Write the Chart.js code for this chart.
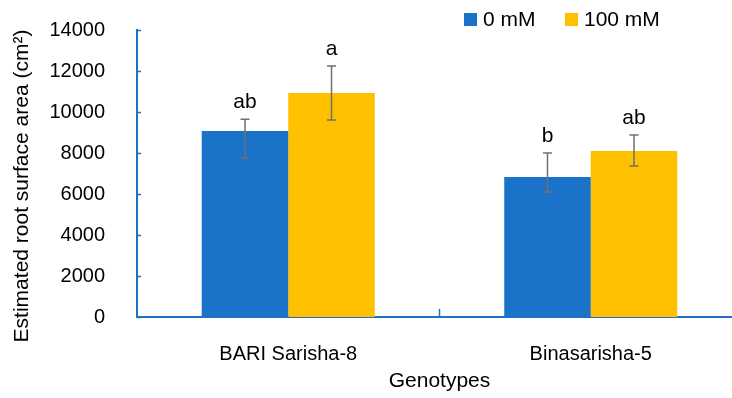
<!DOCTYPE html>
<html>
<head>
<meta charset="utf-8">
<script src="https://cdn.jsdelivr.net/npm/chart.js@4"></script>
<style>
  html, body { margin: 0; padding: 0; background: #fff; overflow: hidden; }
  #wrap { width: 742px; height: 398px; }
</style>
</head>
<body>
<div id="wrap"><canvas id="myChart" width="742" height="398"></canvas></div>
<script>
const genotypes = ['BARI Sarisha-8', 'Binasarisha-5']
const seriesNames = ['0 mM', '100 mM']
// values per series, one entry per genotype
const zero = [9070, 6830]
const hundred = [10930, 8100]
// asymmetric error bars: upper and lower ends
const zeroUp = [9650, 8000]
const zeroLow = [7760, 6100]
const hundUp = [12240, 8880]
const hundLow = [9610, 7370]
const zeroLetters = ['ab', 'b']
const hundLetters = ['a', 'ab']
const yTicks = [0, 2000, 4000, 6000, 8000, 10000, 12000, 14000]
const yTitle = 'Estimated root surface area (cm²)'

const blue = '#1a73c8'
const yellow = '#ffc000'
const axisBlue = '#1f70c1'
const font = "'Liberation Sans', Arial, sans-serif"

const extras = {
    id: 'extras',
    afterDatasetsDraw(chart) {
        const ctx = chart.ctx
        const y = chart.scales.y
        const x = chart.scales.x
        const area = chart.chartArea
        const errs = [[zeroUp, zeroLow, zeroLetters], [hundUp, hundLow, hundLetters]]
        ctx.save()
        errs.forEach(([up, low, letters], di) => {
            chart.getDatasetMeta(di).data.forEach((bar, j) => {
                const yt = y.getPixelForValue(up[j])
                const yb = y.getPixelForValue(low[j])
                ctx.strokeStyle = '#707070'
                ctx.lineWidth = 1.5
                ctx.beginPath()
                ctx.moveTo(bar.x, yt); ctx.lineTo(bar.x, yb)
                ctx.moveTo(bar.x - 4.5, yt); ctx.lineTo(bar.x + 4.5, yt)
                ctx.moveTo(bar.x - 4.5, yb); ctx.lineTo(bar.x + 4.5, yb)
                ctx.stroke()
                ctx.fillStyle = '#000'
                ctx.font = '21px ' + font
                ctx.textAlign = 'center'
                ctx.textBaseline = 'bottom'
                ctx.fillText(letters[j], bar.x, yt - 6)
            })
        })
        // inner tick marks
        ctx.strokeStyle = axisBlue
        ctx.lineWidth = 1.5
        ctx.beginPath()
        yTicks.forEach(v => {
            const py = Math.round(y.getPixelForValue(v)) + 0.5
            ctx.moveTo(area.left, py); ctx.lineTo(area.left + 4, py)
        })
        const mid = (x.getPixelForValue(0) + x.getPixelForValue(1)) / 2
        ctx.moveTo(mid, area.bottom); ctx.lineTo(mid, area.bottom - 8)
        ctx.stroke()
        // y title
        ctx.fillStyle = '#000'
        ctx.font = '21px ' + font
        ctx.textAlign = 'center'
        ctx.textBaseline = 'middle'
        ctx.save()
        ctx.translate(22, 186)
        ctx.rotate(-Math.PI / 2)
        ctx.fillText(yTitle, 0, 0)
        ctx.restore()
        // legend
        ctx.textAlign = 'left'
        const lx = [464, 565]
        chart.data.datasets.forEach((ds, i) => {
            ctx.fillStyle = ds.backgroundColor
            ctx.fillRect(lx[i], 13, 13, 13)
            ctx.fillStyle = '#000'
            ctx.fillText(ds.label, lx[i] + 19, 20)
        })
        ctx.restore()
    }
}

new Chart(document.getElementById('myChart'), {
    type: 'bar',
    data: {
        labels: genotypes,
        datasets: [
            { label: seriesNames[0], data: zero, backgroundColor: blue },
            { label: seriesNames[1], data: hundred, backgroundColor: yellow }
        ]
    },
    options: {
        responsive: false,
        animation: false,
        layout: { autoPadding: false, padding: { top: 30, right: 0, left: 0, bottom: 0 } },
        datasets: { bar: { categoryPercentage: 0.572, barPercentage: 1 } },
        plugins: { legend: { display: false }, tooltip: { enabled: false } },
        scales: {
            x: {
                grid: { display: false },
                border: { color: axisBlue, width: 2 },
                ticks: { color: '#000', font: { family: font, size: 20 }, padding: 17 },
                title: { display: true, text: 'Genotypes', color: '#000', font: { family: font, size: 21 }, padding: { top: 8 } },
                afterFit: s => { s.height = 81 }
            },
            y: {
                min: 0, max: 14000,
                afterBuildTicks: s => { s.ticks = yTicks.map(v => ({ value: v })) },
                grid: { display: false },
                border: { color: axisBlue, width: 2 },
                ticks: { color: '#000', font: { family: font, size: 20 }, padding: 24, callback: v => String(v) },
                afterFit: s => { s.width = 137; s.paddingTop = 0; s.paddingBottom = 0 }
            }
        }
    },
    plugins: [extras]
})
</script>
</body>
</html>
